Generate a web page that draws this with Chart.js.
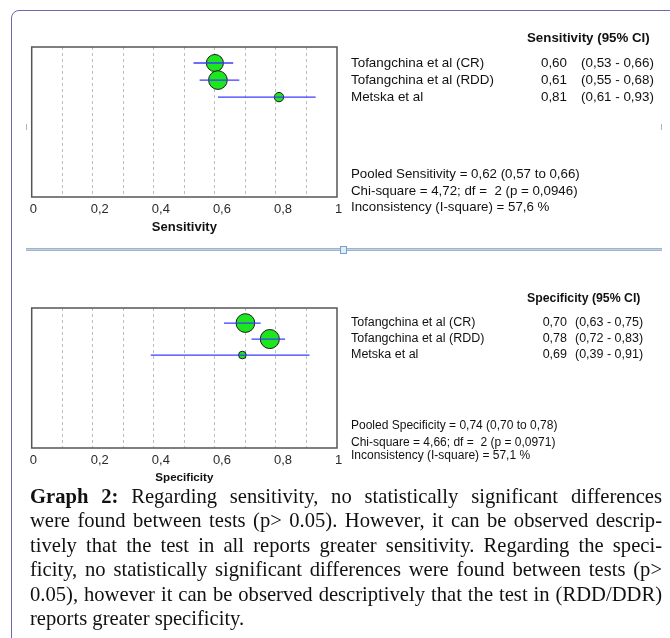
<!DOCTYPE html>
<html>
<head>
<meta charset="utf-8">
<script src="https://cdn.jsdelivr.net/npm/chart.js@4.4.1/dist/chart.umd.min.js"></script>
<style>
  html, body { margin: 0; padding: 0; background: #fff; }
  body { width: 670px; height: 638px; position: relative; overflow: hidden; }
  #frame {
    position: absolute; left: 11px; top: 10px; width: 700px; height: 700px;
    border: 1.5px solid #6f69ab; border-radius: 8px; box-sizing: border-box;
  }
  .wrap { position: absolute; left: 0; }
  #sel {
    position: absolute; left: 26px; top: 248px; width: 636px; height: 1px;
    background: #c2d2e4; border-top: 1px solid #9fb4cc; border-bottom: 1px solid #9fb4cc;
  }
  #sel .h {
    position: absolute; left: 314px; top: -3px; width: 5px; height: 6px;
    background: #d6f1fb; border: 1px solid #7f9fc2;
  }
  .mark { position: absolute; width: 1px; height: 6px; background: #9fb8d4; }
  #caption {
    position: absolute; left: 30px; top: 484px; width: 632px;
    font-family: "Times New Roman", "Liberation Serif", serif;
    font-size: 20.6px; line-height: 24.4px; color: #111;
  }
  #caption div { text-align: justify; text-align-last: justify; white-space: nowrap; }
  #caption div.last { text-align-last: left; }
</style>
</head>
<body>
<div id="frame"></div>
<div class="wrap" style="top:20px"><canvas id="sens" width="670" height="215"></canvas></div>
<div id="sel"><div class="h"></div></div>
<div class="mark" style="left:26px; top:124px"></div>
<div class="mark" style="left:661px; top:124px"></div>
<div class="wrap" style="top:280px"><canvas id="spec" width="670" height="205"></canvas></div>
<div id="caption">
  <div><b>Graph 2:</b> Regarding sensitivity, no statistically significant differences</div>
  <div>were found between tests (p&gt; 0.05). However, it can be observed descrip-</div>
  <div>tively that the test in all reports greater sensitivity. Regarding the speci-</div>
  <div>ficity, no statistically significant differences were found between tests (p&gt;</div>
  <div>0.05), however it can be observed descriptively that the test in (RDD/DDR)</div>
  <div class="last">reports greater specificity.</div>
</div>
<script>
// studies
const studies = ['Tofangchina et al (CR)', 'Tofangchina et al (RDD)', 'Metska et al'];

// sensitivity
const sensEst = [0.60, 0.61, 0.81];
const sensLow = [0.53, 0.55, 0.61];
const sensHigh = [0.66, 0.68, 0.93];
const sensWeight = [40, 48, 12];
const sensPooled = ['Pooled Sensitivity = 0,62 (0,57 to 0,66)',
  'Chi-square = 4,72; df =  2 (p = 0,0946)',
  'Inconsistency (I-square) = 57,6 %'];

// specificity
const specEst = [0.70, 0.78, 0.69];
const specLow = [0.63, 0.72, 0.39];
const specHigh = [0.75, 0.83, 0.91];
const specWeight = [48, 50, 8];
const specPooled = ['Pooled Specificity = 0,74 (0,70 to 0,78)',
  'Chi-square = 4,66; df =  2 (p = 0,0971)',
  'Inconsistency (I-square) = 57,1 %'];

const SANS = 'Arial, "Liberation Sans", sans-serif';

function fmt(v) {
  return v.toFixed(2).replace('.', ',');
}

function tickLabel(v) {
  const t = Math.round(v * 10);
  if (t === 0) return '0';
  if (t === 10) return '1';
  if (t % 2) return '';
  return (t / 10).toFixed(1).replace('.', ',');
}

// frame around plot + the study table on the right
const forestText = {
  id: 'forestText',
  afterDraw(chart, args, opts) {
    const ctx = chart.ctx;
    const a = chart.chartArea;
    const y = chart.scales.y;
    ctx.save();
    ctx.strokeStyle = '#555';
    ctx.lineWidth = 1.5;
    ctx.strokeRect(a.left, a.top, a.right - a.left, a.bottom - a.top);

    ctx.fillStyle = '#111';
    ctx.textBaseline = 'middle';
    ctx.font = 'bold ' + opts.headSize + 'px ' + SANS;
    ctx.textAlign = 'left';
    ctx.fillText(opts.header, opts.headX, a.top - 9);

    ctx.font = opts.size + 'px ' + SANS;
    opts.names.forEach((n, i) => {
      const py = y.getPixelForValue(i + 1);
      ctx.textAlign = 'left';
      ctx.fillText(n, 351, py);
      ctx.textAlign = 'right';
      ctx.fillText(fmt(opts.est[i]), opts.valX, py);
      ctx.textAlign = 'left';
      ctx.fillText('(' + fmt(opts.low[i]) + ' - ' + fmt(opts.high[i]) + ')', opts.ciX, py);
    });
    ctx.font = opts.pooledSize + 'px ' + SANS;
    ctx.textAlign = 'left';
    opts.pooled.forEach((t, i) => {
      ctx.fillText(t, 351, a.bottom + opts.pooledY[i]);
    });
    ctx.restore();
  }
};

function forestChart(id, cfg) {
  const ciSets = cfg.est.map((e, i) => ({
    type: 'scatter',
    data: [{ x: cfg.low[i], y: i + 1 }, { x: cfg.high[i], y: i + 1 }],
    showLine: true,
    borderColor: '#3b3bff',
    borderWidth: 1.3,
    pointRadius: 0,
    order: 0
  }));
  const pointSet = {
    type: 'scatter',
    data: cfg.est.map((e, i) => ({ x: e, y: i + 1 })),
    backgroundColor: '#1ee61e',
    borderColor: '#1a1a1a',
    borderWidth: 1,
    pointRadius: cfg.weight.map(w => Math.sqrt(w) * 1.35),
    order: 1
  };

  return new Chart(document.getElementById(id), {
    type: 'scatter',
    data: { datasets: ciSets.concat([pointSet]) },
    options: {
      responsive: false,
      animation: false,
      devicePixelRatio: 1,
      layout: { padding: { left: 31.7, right: 333, top: cfg.padTop, bottom: 0 } },
      plugins: {
        legend: { display: false },
        tooltip: { enabled: false },
        forestText: {
          header: cfg.header, headSize: cfg.headSize, headX: 527,
          names: studies, est: cfg.est, low: cfg.low, high: cfg.high,
          size: cfg.size, valX: 567, ciX: cfg.ciX,
          pooled: cfg.pooled, pooledY: cfg.pooledY, pooledSize: cfg.pooledSize
        }
      },
      scales: {
        x: {
          type: 'linear', min: 0, max: 1,
          afterFit: s => { s.height = cfg.axisH; },
          grid: {
            color: c => (c.tick && (c.tick.value <= 0.001 || c.tick.value >= 0.999)) ? 'rgba(0,0,0,0)' : '#bdbdbd',
            lineWidth: 1,
            drawTicks: false
          },
          border: { display: false, dash: [3, 3] },
          ticks: {
            stepSize: 0.1, autoSkip: false, maxRotation: 0,
            align: 'start', labelOffset: -2, padding: 5,
            color: '#2a2a2a', font: { family: SANS, size: 13 },
            callback: v => tickLabel(v)
          },
          title: {
            display: true, text: cfg.title, color: '#111',
            font: { family: SANS, size: cfg.titleSize, weight: 'bold' },
            padding: { top: 0, bottom: 0 }
          }
        },
        y: { type: 'linear', display: false, reverse: true, min: 0.06, max: cfg.yMax }
      }
    },
    plugins: [forestText]
  });
}

const sensChart = forestChart('sens', {
  est: sensEst, low: sensLow, high: sensHigh, weight: sensWeight,
  header: 'Sensitivity (95% CI)', headSize: 13.3, size: 13.4, pooledSize: 13.3, ciX: 581,
  pooled: sensPooled, pooledY: [-23, -6, 10],
  title: 'Sensitivity', titleSize: 13,
  padTop: 27, axisH: 38, yMax: 8.86
});

const specChart = forestChart('spec', {
  est: specEst, low: specLow, high: specHigh, weight: specWeight,
  header: 'Specificity (95% CI)', headSize: 12.3, size: 12.5, pooledSize: 12, ciX: 575,
  pooled: specPooled, pooledY: [-22, -5, 8],
  title: 'Specificity', titleSize: 11.6,
  padTop: 28, axisH: 37, yMax: 8.81
});
</script>
</body>
</html>
